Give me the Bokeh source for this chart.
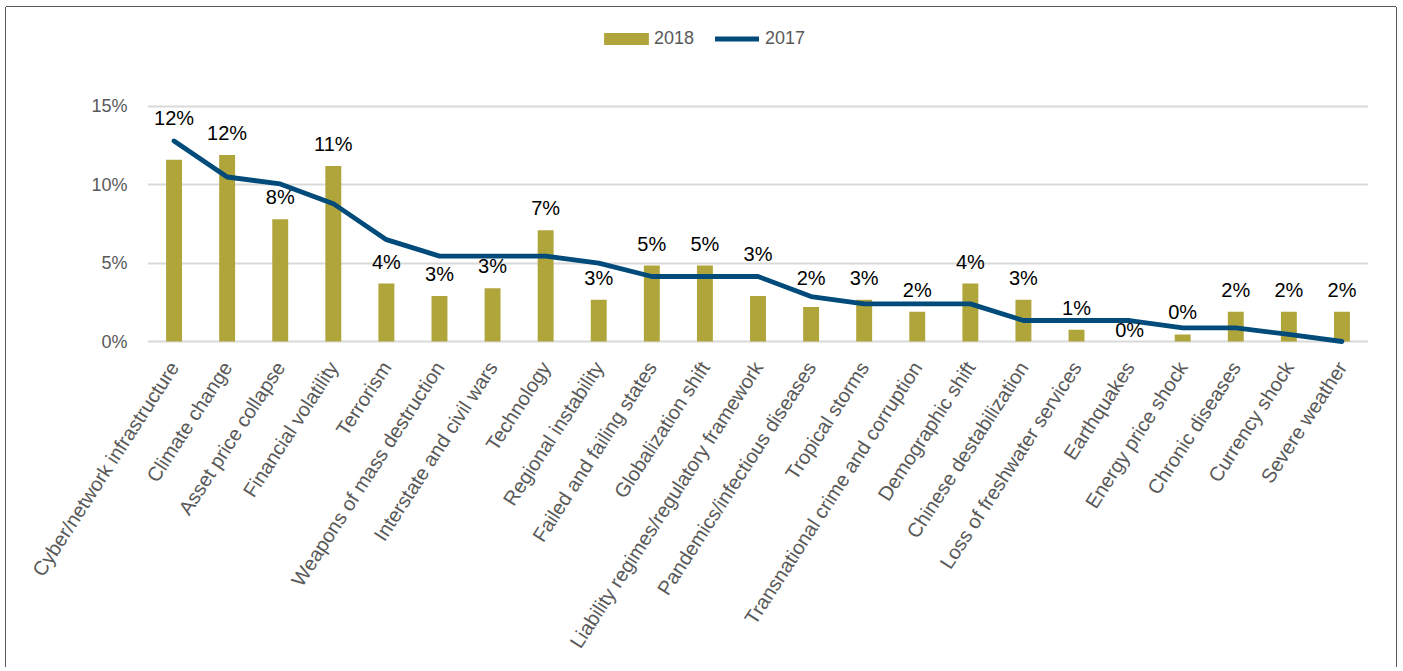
import math
from bokeh.plotting import figure
from bokeh.models import (FactorRange, Range1d, FixedTicker, NumeralTickFormatter,
                          Legend, LegendItem, ColumnDataSource)
from bokeh.core.properties import value
from bokeh.embed import file_html
from bokeh.resources import INLINE

categories = [
    "Cyber/network infrastructure", "Climate change", "Asset price collapse",
    "Financial volatility", "Terrorism", "Weapons of mass destruction",
    "Interstate and civil wars", "Technology", "Regional instability",
    "Failed and failing states", "Globalization shift",
    "Liability regimes/regulatory framework", "Pandemics/infectious diseases",
    "Tropical storms", "Transnational crime and corruption", "Demographic shift",
    "Chinese destabilization", "Loss of freshwater services", "Earthquakes",
    "Energy price shock", "Chronic diseases", "Currency shock", "Severe weather",
]
v2018 = [0.116, 0.119, 0.078, 0.112, 0.037, 0.029, 0.034, 0.071, 0.0266, 0.0485,
         0.0485, 0.029, 0.022, 0.0266, 0.019, 0.037, 0.0266, 0.0075, 0.0, 0.0045,
         0.019, 0.019, 0.019]
v2017 = [0.128, 0.105, 0.1006, 0.088, 0.065, 0.0545, 0.0545, 0.0545, 0.050, 0.0415,
         0.0415, 0.0415, 0.0287, 0.024, 0.024, 0.024, 0.0134, 0.0134, 0.0134, 0.0087,
         0.0087, 0.0045, 0.0]
y_ticks = [0, 0.05, 0.10, 0.15]

labels = [f"{round(v * 100):.0f}%" for v in v2018]
# label vertical nudges (screen px), style only
nudge = [-22] * len(categories)
nudge[0] = -42
nudge[11] = -42
nudge[12] = -29
nudge[18] = -12

FONT = "Liberation Sans"
BAR = "#B0A53A"
LINE = "#004B7A"
GRAY = "#595959"

src = ColumnDataSource(dict(cat=categories, y18=v2018, y17=v2017, lbl=labels, dy=nudge))

p = figure(x_range=FactorRange(factors=categories, range_padding=0),
           y_range=Range1d(-0.002553, 0.20617),
           width=1390, height=660, output_backend="svg", toolbar_location=None,
           min_border_left=141, min_border_right=28, min_border_top=11,
           min_border_bottom=322)
p.styles = {"margin-left": "6px", "margin-top": "7px",
            "box-shadow": "0 -1px 0 0 #595959, -1px 0 0 0 #595959, 1px 0 0 0 #595959"}
p.outline_line_color = None
p.background_fill_color = "white"
p.border_fill_color = "white"

p.xgrid.grid_line_color = None
p.ygrid.grid_line_color = "#D9D9D9"
p.ygrid.grid_line_width = 2

p.yaxis.ticker = FixedTicker(ticks=y_ticks)
p.yaxis.formatter = NumeralTickFormatter(format="0%")
for ax in (p.xaxis, p.yaxis):
    ax.axis_line_color = None
    ax.major_tick_line_color = None
    ax.minor_tick_line_color = None
    ax.major_label_text_font = FONT
    ax.major_label_text_color = GRAY
p.yaxis.major_label_text_font_size = "18px"
p.xaxis.major_label_text_font_size = "20px"
p.yaxis.major_label_standoff = 14
p.xaxis.major_label_standoff = 12
p.xaxis.major_label_orientation = math.radians(57)

bars = p.vbar(x="cat", top="y18", width=0.3, source=src, fill_color=BAR, line_color=None)
line = p.line(x="cat", y="y17", source=src, line_color=LINE, line_width=4.8,
              line_cap="round", line_join="round")
p.text(x="cat", y="y18", text="lbl", y_offset="dy", source=src,
       text_align="center", text_baseline="middle", text_font=value(FONT),
       text_font_size="20px", text_color="#000000")

common = dict(orientation="horizontal", padding=0, margin=0, border_line_color=None,
              background_fill_alpha=0, label_text_font_size="18px",
              label_text_color=GRAY, label_text_font=FONT, label_height=15)
leg1 = Legend(items=[LegendItem(label="2018", renderers=[bars])], location=(451, 296),
              glyph_width=56, glyph_height=15, label_standoff=0, **common)
leg2 = Legend(items=[LegendItem(label="2017", renderers=[line])], location=(568, 296),
              glyph_width=44, glyph_height=15, label_standoff=6, **common)
p.add_layout(leg1)
p.add_layout(leg2)

open("out.html", "w").write(file_html(p, INLINE))
